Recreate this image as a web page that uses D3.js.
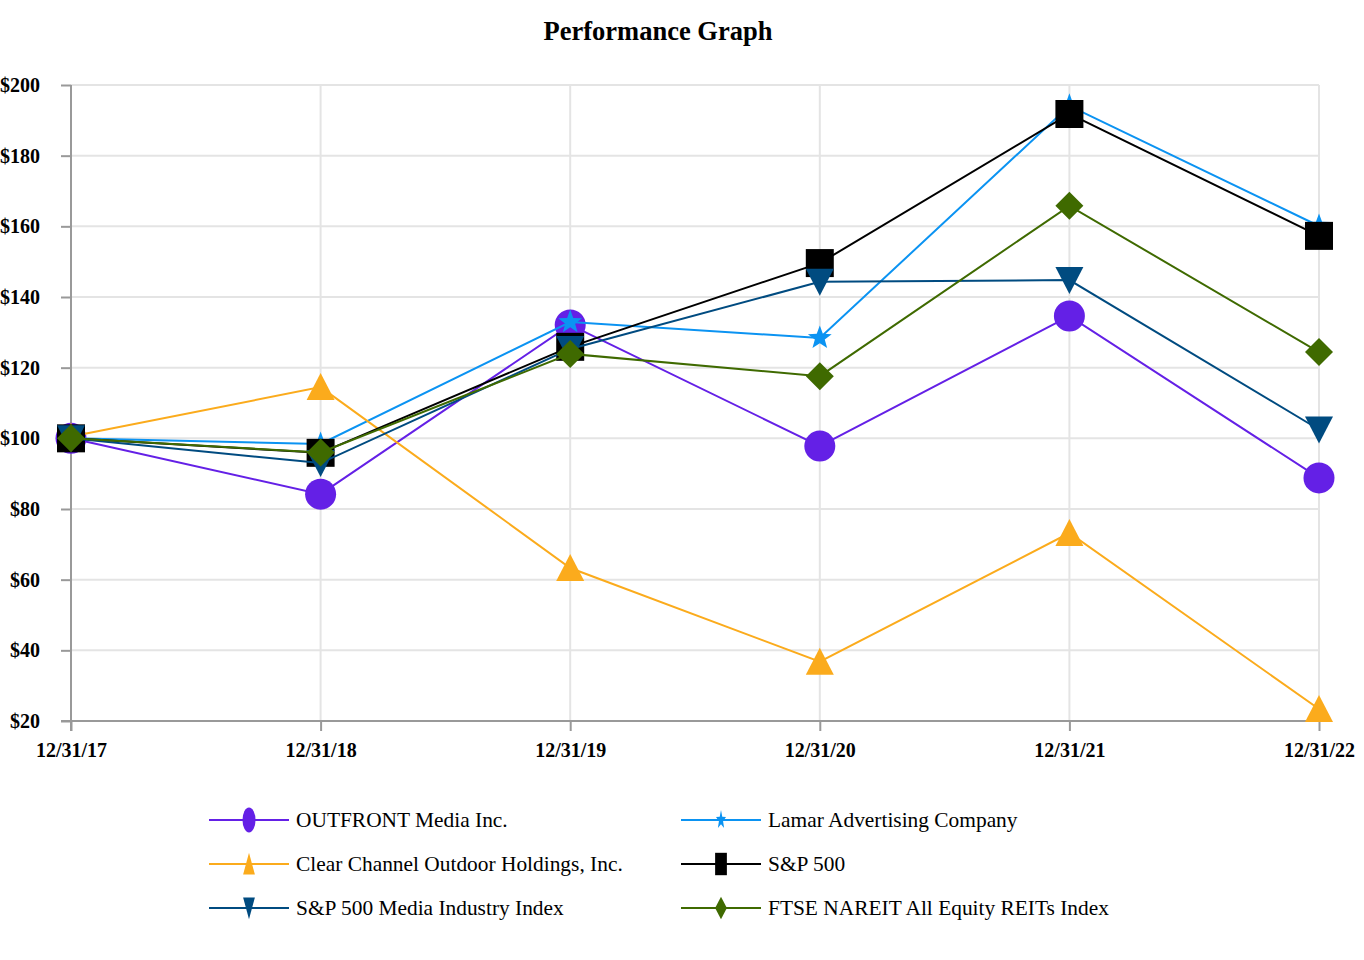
<!DOCTYPE html>
<html>
<head>
<meta charset="utf-8">
<script src="https://cdn.jsdelivr.net/npm/d3@7"></script>
<style>
  body { margin: 0; background: #fff; }
  svg { display: block; font-family: "Liberation Serif", "Times New Roman", serif; }
</style>
</head>
<body>
<svg id="chart" width="1364" height="960"></svg>
<script>
// Data
const dates = ["12/31/17", "12/31/18", "12/31/19", "12/31/20", "12/31/21", "12/31/22"];
const yTicks = [20, 40, 60, 80, 100, 120, 140, 160, 180, 200];

const outfront = [100, 84.2, 132.1, 97.8, 134.6, 88.8];
const lamar = [100, 98.4, 132.9, 128.4, 194.1, 160.1];
const clearChannel = [100.5, 114.5, 63.3, 36.8, 73.2, 23.4];
const sp500 = [100, 95.9, 125.9, 149.6, 191.8, 157.3];
const mediaIndex = [100, 93, 125.3, 144.3, 144.8, 102.5];
const ftseNareit = [100, 96, 123.9, 117.6, 165.8, 124.4];

const seriesNames = [
    "OUTFRONT Media Inc.",
    "Lamar Advertising Company",
    "Clear Channel Outdoor Holdings, Inc.",
    "S&P 500",
    "S&P 500 Media Industry Index",
    "FTSE NAREIT All Equity REITs Index"
];

//List of colors
const color = ["#6420e6", "#0b93f2", "#fbab1c", "#000000", "#004b80", "#3f6a00"];
const shapes = ["circle", "star", "triangle", "square", "down", "diamond"];

const series = [outfront, lamar, clearChannel, sp500, mediaIndex, ftseNareit].map((values, i) => ({
    name: seriesNames[i],
    values: values,
    color: color[i],
    shape: shapes[i]
}));

// marker paths centred on 0,0
function markerPath(shape) {
    if (shape == "circle") {
        const p = d3.path();
        p.arc(0, 0, 15.5, 0, 2 * Math.PI);
        return p.toString();
    }
    if (shape == "square") return "M-14,-14H14V14H-14Z";
    if (shape == "triangle") return "M0,-14L14,13L-14,13Z";
    if (shape == "down") return "M-14,-13L14,-13L0,14Z";
    if (shape == "diamond") return "M0,-14L14,0L0,14L-14,0Z";
    // star
    let pts = [];
    for (let k = 0; k < 10; k++) {
        const r = k % 2 == 0 ? 12.5 : 5.2;
        const a = -Math.PI / 2 + k * Math.PI / 5;
        pts.push([r * Math.cos(a), r * Math.sin(a)]);
    }
    return "M" + pts.map(p => p[0].toFixed(2) + "," + p[1].toFixed(2)).join("L") + "Z";
}

const svg = d3.select("#chart");

const margin = {top: 85, left: 71, right: 1319, bottom: 721};

const xScale = d3.scalePoint()
    .domain(dates)
    .range([margin.left, margin.right]);

const yScale = d3.scaleLinear()
    .domain([20, 200])
    .range([margin.bottom, margin.top]);

// Title
svg.append("text")
    .attr("x", 658)
    .attr("y", 40)
    .attr("text-anchor", "middle")
    .attr("font-size", 26.5)
    .attr("font-weight", "bold")
    .text("Performance Graph");

// Grid lines
svg.append("g")
    .selectAll("line")
    .data(yTicks)
    .join("line")
    .attr("x1", margin.left)
    .attr("x2", margin.right)
    .attr("y1", d => yScale(d))
    .attr("y2", d => yScale(d))
    .attr("stroke", "#e4e4e4")
    .attr("stroke-width", 2);

svg.append("g")
    .selectAll("line")
    .data(dates)
    .join("line")
    .attr("x1", d => xScale(d))
    .attr("x2", d => xScale(d))
    .attr("y1", margin.top)
    .attr("y2", margin.bottom)
    .attr("stroke", "#e4e4e4")
    .attr("stroke-width", 2);

// Axes
const yAxis = svg.append("g")
    .attr("transform", "translate(" + margin.left + ",0)")
    .call(d3.axisLeft(yScale).tickValues(yTicks).tickSize(10).tickPadding(21).tickFormat(d => "$" + d));

const xAxis = svg.append("g")
    .attr("transform", "translate(0," + margin.bottom + ")")
    .call(d3.axisBottom(xScale).tickSize(10).tickPadding(12));

[yAxis, xAxis].forEach(ax => {
    ax.select(".domain").attr("stroke", "#999").attr("stroke-width", 2);
    ax.selectAll(".tick line").attr("stroke", "#999").attr("stroke-width", 2);
    ax.selectAll(".tick text")
        .attr("fill", "#000")
        .attr("font-size", 20)
        .attr("font-weight", "bold")
        .attr("font-family", "Liberation Serif, serif");
});
yAxis.select(".domain").attr("d", "M0," + margin.top + "V" + (margin.bottom + 10));
xAxis.select(".domain").attr("d", "M" + (margin.left - 10) + ",0H" + margin.right);

// Lines and markers
const line = d3.line()
    .x((d, i) => xScale(dates[i]))
    .y(d => yScale(d));

series.forEach(s => {
    const g = svg.append("g");
    g.append("path")
        .attr("d", line(s.values))
        .attr("fill", "none")
        .attr("stroke", s.color)
        .attr("stroke-width", 2);
    g.selectAll("path.marker")
        .data(s.values)
        .join("path")
        .attr("class", "marker")
        .attr("transform", (d, i) => "translate(" + xScale(dates[i]) + "," + yScale(d) + ")")
        .attr("d", markerPath(s.shape))
        .attr("fill", s.color);
});

// Legend
const legend = svg.append("g")
    .selectAll("g")
    .data(series)
    .join("g")
    .attr("transform", (d, i) => "translate(" + (i % 2 == 0 ? 209 : 681) + "," + (820 + Math.floor(i / 2) * 44) + ")");

legend.append("line")
    .attr("x1", 0)
    .attr("x2", 80)
    .attr("stroke", d => d.color)
    .attr("stroke-width", 2);

legend.append("path")
    .attr("transform", "translate(40,0) scale(0.42,0.8)")
    .attr("d", d => markerPath(d.shape))
    .attr("fill", d => d.color);

legend.append("text")
    .attr("x", 87)
    .attr("y", 7)
    .attr("font-size", 21.4)
    .text(d => d.name);
</script>
</body>
</html>
